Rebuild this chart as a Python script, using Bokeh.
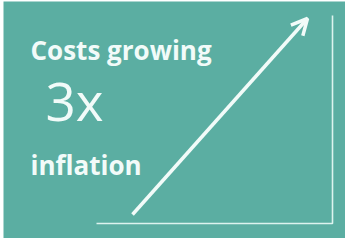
from bokeh.plotting import figure
from bokeh.models import Arrow, OpenHead, Range1d
from bokeh.core.properties import value
from bokeh.embed import file_html
from bokeh.resources import INLINE

# coordinates in a 345 x 238 canvas (data units = px)
panel_x = [3, 345]
panel_y = [0, 237]
axis_x = [96, 332, 332]
axis_y = [15, 15, 223]
arrow_start = (132, 24)
arrow_end = (307, 220)
labels = ["Costs growing", "3x", "inflation"]
label_x = [30, 45, 30]
label_y = [189, 138, 74]
label_size = ["26px", "53px", "26px"]
label_style = ["bold", "normal", "bold"]

TEAL = "#5BAEA2"
WHITE = "#F2FBF9"

p = figure(width=345, height=238, x_range=Range1d(0, 345), y_range=Range1d(0, 238),
           output_backend="svg", toolbar_location=None, min_border=0)
p.axis.visible = False
p.grid.visible = False
p.outline_line_color = None
p.background_fill_color = "white"
p.border_fill_color = "white"

p.quad(left=panel_x[0], right=panel_x[1], bottom=panel_y[0], top=panel_y[1],
       fill_color=TEAL, line_color=None)
p.line(axis_x, axis_y, line_color="#DDF3EF", line_width=1.6)

p.add_layout(Arrow(x_start=arrow_start[0], y_start=arrow_start[1],
                   x_end=arrow_end[0], y_end=arrow_end[1],
                   line_color=WHITE, line_width=3.5,
                   end=OpenHead(line_color=WHITE, line_width=3.5, size=16)))

for t, x, y, s, st in zip(labels, label_x, label_y, label_size, label_style):
    p.text(x=[x], y=[y], text=[t], text_font=value("Open Sans"), text_font_size=s,
           text_font_style=st, text_color=WHITE, text_baseline="alphabetic")

open("out.html", "w").write(file_html(p, INLINE))
